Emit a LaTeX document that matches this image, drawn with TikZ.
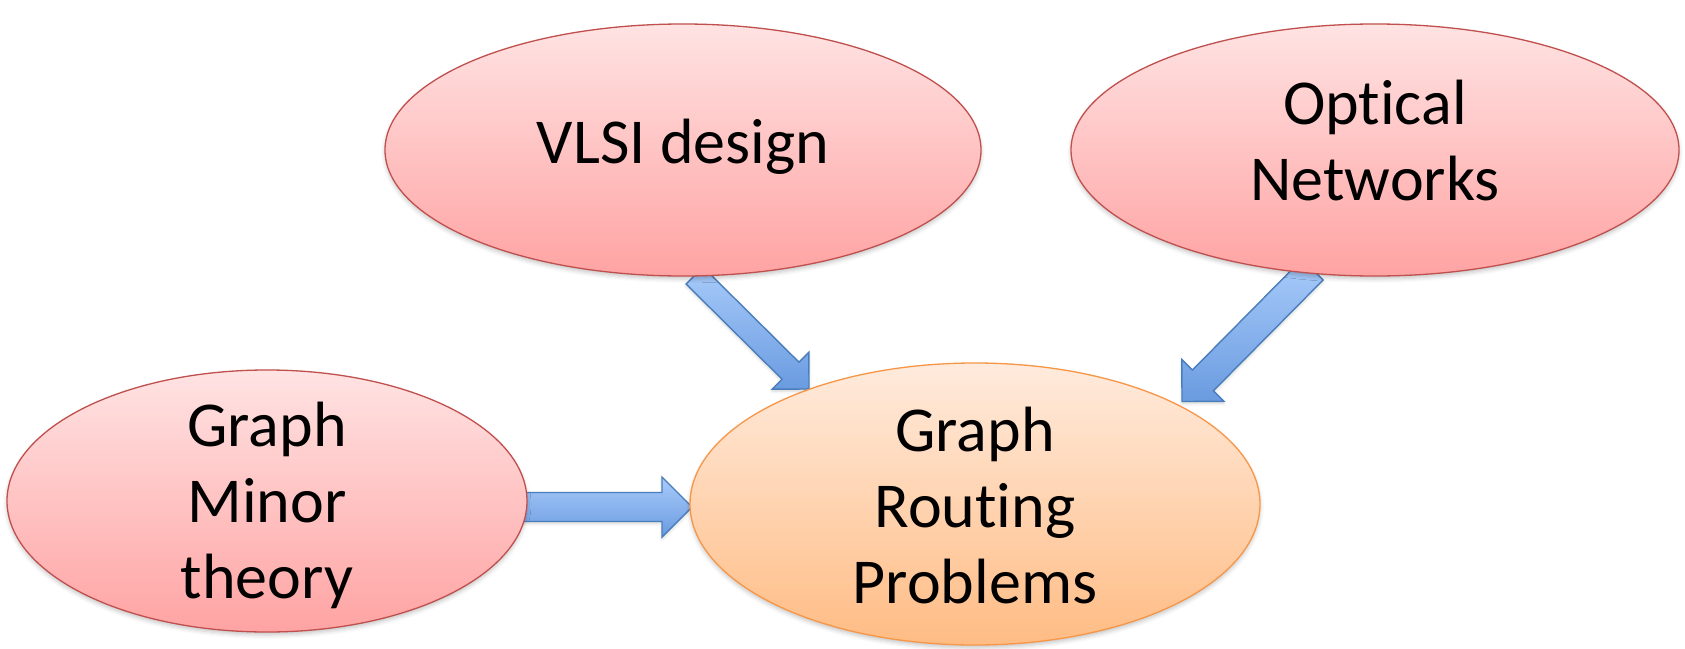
\documentclass[tikz,border=0pt]{standalone}
\usepackage{fontspec}
\setmainfont{Carlito}[Ligatures=NoCommon]
\usetikzlibrary{calc,shapes.geometric,shadows.blur}

\definecolor{redtop}{HTML}{FFE3E3}
\definecolor{redbot}{HTML}{FFA3A3}
\definecolor{redline}{HTML}{C0504D}
\definecolor{orgtop}{HTML}{FFEBDD}
\definecolor{orgbot}{HTML}{FFBC84}
\definecolor{orgline}{HTML}{F79646}
\definecolor{bluetop}{HTML}{A8CBFA}
\definecolor{bluebot}{HTML}{6A9BE0}
\definecolor{blueline}{HTML}{4A7EBB}

\tikzset{
  bubble/.style={ellipse, draw=redline, line width=1.3pt,
    top color=redtop, bottom color=redbot, inner sep=0pt,
    blur shadow={shadow xshift=0pt, shadow yshift=-3pt,
      shadow opacity=22, shadow blur radius=4pt}},
  goal/.style={bubble, draw=orgline, top color=orgtop, bottom color=orgbot},
  label text/.style={align=center, inner sep=0pt,
    font=\fontsize{64}{76}\selectfont},
  fatarrow/.style={draw=blueline, line width=1.4pt, line join=miter,
    top color=bluetop, bottom color=bluebot,
    blur shadow={shadow xshift=0pt, shadow yshift=-2pt,
      shadow opacity=18, shadow blur radius=3pt}},
}

% block arrow: tail, tip, half shaft width, half head width, head length
\newcommand\fatarr[5]{%
  \coordinate (hb) at ($(#2)!#5!(#1)$);
  \path[fatarrow] ($(#1)!#3!90:(#2)$) -- ($(hb)!#3!-90:(#1)$)
    -- ($(hb)!#4!-90:(#1)$) -- (#2) -- ($(hb)!#4!90:(#1)$)
    -- ($(hb)!#3!90:(#1)$) -- ($(#1)!#3!-90:(#2)$) -- cycle;}

\begin{document}
\begin{tikzpicture}[x=1pt,y=-1pt]
\useasboundingbox (0,0) rectangle (1685,648);

% arrow end points
\coordinate (vlsi-out) at (694.5,275.5);
\coordinate (route-in1) at (809,389);
\coordinate (opt-out) at (1312.6,269.6);
\coordinate (route-in2) at (1182,401.5);
\coordinate (minor-out) at (515,507);
\coordinate (route-in3) at (692,507);

% arrows (drawn first so the bubbles cover their tails)
\fatarr{vlsi-out}{route-in1}{12pt}{26pt}{26pt}
\fatarr{opt-out}{route-in2}{14.75pt}{29.7pt}{29.7pt}
\fatarr{minor-out}{route-in3}{14.5pt}{30pt}{30pt}

% bubbles
\node[bubble, minimum width=596pt, minimum height=252pt] (vlsi) at (683,150) {};
\node[bubble, minimum width=608pt, minimum height=252pt] (opt) at (1375,150) {};
\node[bubble, minimum width=520pt, minimum height=262pt] (minor) at (267,501) {};
\node[goal, minimum width=570pt, minimum height=282pt] (route) at (975,504) {};

% texts
\node[label text] (vlsi-t) at (683,147) {VLSI design};
\node[label text] (opt-t) at (1375,141) {Optical\\Networks};
\node[label text] (minor-t) at (267,505.5) {Graph\\Minor\\theory};
\node[label text] (route-t) at (975,506) {Graph\\Routing\\Problems};
\end{tikzpicture}
\end{document}
